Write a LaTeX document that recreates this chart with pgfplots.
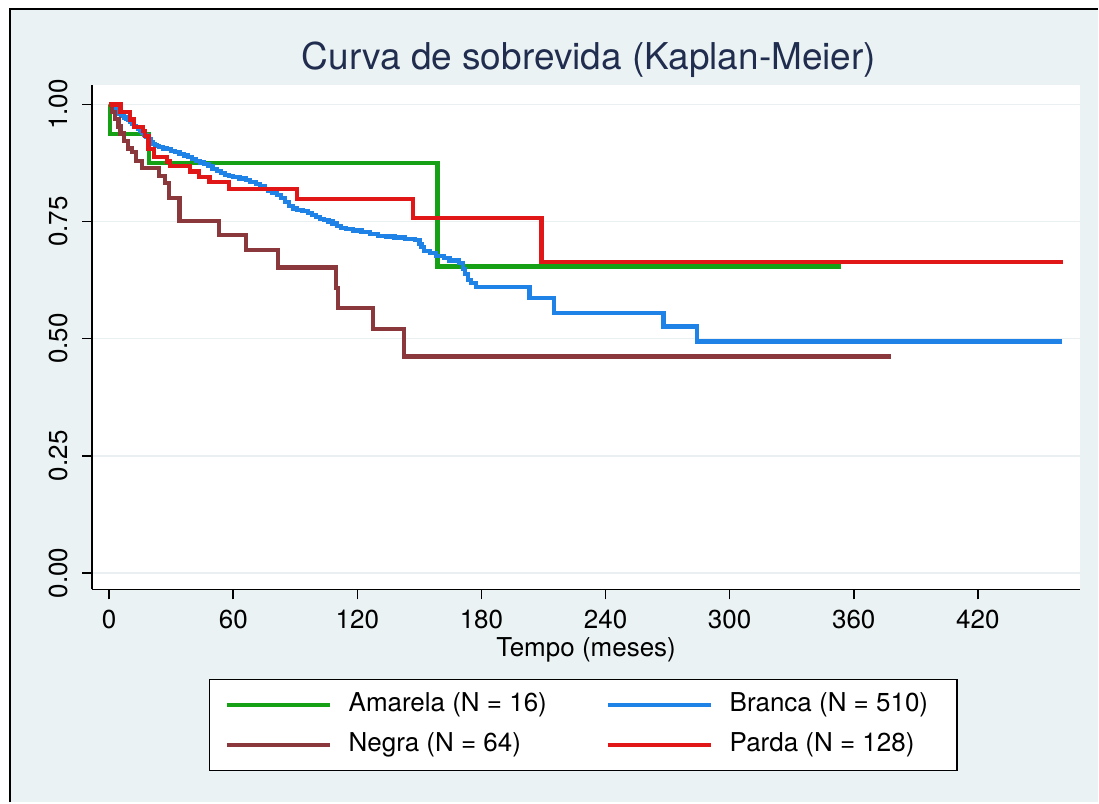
\documentclass[border=0pt]{standalone}
\usepackage{fontspec}
\setmainfont{TeX Gyre Heros}
\usepackage{pgfplots}
\pgfplotsset{compat=1.18}

\definecolor{regionbg}{RGB}{234,242,243}
\definecolor{gridc}{RGB}{234,240,242}
\definecolor{titlenavy}{RGB}{33,45,79}
\definecolor{amarela}{RGB}{22,160,22}
\definecolor{branca}{RGB}{30,130,230}
\definecolor{negra}{RGB}{138,56,60}
\definecolor{parda}{RGB}{225,22,22}

% Kaplan-Meier step estimates: time (months), survival after the event
\pgfplotstableread{
t S
0 1.000
0.5 0.9375
19.4 0.875
158.7 0.654
353.7 0.654
}\amarela
\pgfplotstableread{
t S
0 1.000
1 0.998
2 0.994
3 0.990
4 0.986
5 0.980
6 0.976
7 0.972
8 0.969
9 0.966
10 0.962
11 0.958
12 0.954
13 0.951
14 0.947
15 0.943
16 0.939
17 0.935
18 0.930
19 0.925
20 0.920
21 0.916
22 0.913
23 0.911
24 0.909
26 0.906
28 0.904
30 0.901
32 0.898
34 0.895
36 0.891
38 0.887
40 0.883
42 0.879
44 0.876
46 0.872
48 0.868
50 0.863
52 0.858
54 0.853
56 0.850
58 0.847
60 0.845
63 0.842
66 0.838
68 0.835
71 0.831
73 0.826
75.5 0.820
77 0.816
79 0.812
81 0.807
83 0.800
85 0.792
87 0.784
89 0.778
91 0.775
93.5 0.772
96 0.768
98 0.764
100 0.760
102 0.756
104 0.753
106 0.750
108 0.746
110 0.741
112 0.737
114.5 0.734
118 0.731
122 0.728
126 0.724
130 0.720
134 0.718
138 0.716
143 0.713
148 0.710
150 0.702
151 0.695
152.4 0.688
155 0.683
158 0.677
162 0.672
164.5 0.667
169.3 0.662
171 0.648
172 0.638
173.3 0.626
175 0.618
177.4 0.611
203.2 0.587
215 0.554
268 0.526
284.1 0.494
460.7 0.494
}\branca
\pgfplotstableread{
t S
0 1.000
1.5 0.984
3 0.969
4.5 0.953
5.5 0.938
7 0.922
9 0.906
11 0.898
13 0.880
16 0.864
24 0.848
27 0.832
29 0.800
34 0.752
53 0.722
66 0.690
81.5 0.652
109.5 0.608
110.5 0.565
127.5 0.520
142.7 0.462
378 0.462
}\negra
\pgfplotstableread{
t S
0 1.000
5.5 0.984
10 0.968
12 0.952
16.5 0.944
17.5 0.932
19 0.905
21.5 0.887
28 0.878
29.5 0.868
39 0.857
43.5 0.845
48.5 0.834
58 0.820
91 0.798
147 0.757
209 0.664
461 0.664
}\parda

\begin{document}
\begin{tikzpicture}
% graph region
\fill[white] (0pt,0pt) rectangle (549.5pt,401.5pt);
\fill[regionbg] (5.25pt,0pt) rectangle (549.5pt,396.75pt);
\draw[black, line width=1pt] (5.25pt,0pt) -- (5.25pt,396.75pt) -- (549.5pt,396.75pt);

\begin{axis}[
  at={(46.15pt,106.5pt)}, anchor=south west,
  width=494.35pt, height=252.5pt, scale only axis,
  xmin=-8.2, xmax=469.4, ymin=-0.0352, ymax=1.0416,
  axis lines*=left,
  axis line style={black, line width=0.8pt},
  axis background/.style={fill=white},
  xtick={0,60,...,420},
  ytick={0,0.25,0.5,0.75,1},
  tick align=outside,
  major tick length=5pt,
  tick style={black, line width=0.8pt},
  ymajorgrids,
  grid style={gridc, line width=0.8pt},
  /pgf/number format/assume math mode=true,
  tick label style={font=\fontsize{13}{15}\selectfont, inner sep=0pt},
  yticklabel style={rotate=90, anchor=south,
    /pgf/number format/.cd, fixed, fixed zerofill, precision=2},
  xticklabel style={anchor=north},
  yticklabel shift=7pt,
  xticklabel shift=5pt,
  xlabel={Tempo (meses)},
  xlabel style={at={(axis description cs:0.5,0)}, anchor=base, yshift=-33.5pt,
    font=\fontsize{13}{15}\selectfont, inner sep=0pt},
  every axis plot/.append style={line width=2.1pt, const plot},
  legend columns=2,
  legend cell align=left,
  legend image code/.code={\draw[#1, line width=2pt] (0pt,0pt) -- (51.5pt,0pt);},
  legend style={at={(0.4973,-0.2685)}, anchor=center,
    draw=black, line width=0.6pt, fill=white,
    font=\fontsize{13}{15}\selectfont,
    inner xsep=7.5pt, inner ysep=6.8pt,
    nodes={inner sep=0pt, text height=9.5pt, text depth=2.5pt},
    row sep=8pt,
    /tikz/every odd column/.append style={column sep=8.5pt},
    /tikz/every even column/.append style={column sep=29.5pt}},
]
\addplot[amarela] table[x=t, y=S] {\amarela};
\addlegendentry{Amarela (N = 16)}
\addplot[branca] table[x=t, y=S] {\branca};
\addlegendentry{Branca (N = 510)\hspace*{7pt}}
\addplot[negra] table[x=t, y=S] {\negra};
\addlegendentry{Negra (N = 64)}
\addplot[parda] table[x=t, y=S] {\parda};
\addlegendentry{Parda (N = 128)}
\end{axis}

\node[anchor=base, text=titlenavy, font=\fontsize{18.5}{22}\selectfont]
  at (294.75pt,366.5pt) {Curva de sobrevida (Kaplan-Meier)};
\end{tikzpicture}
\end{document}
